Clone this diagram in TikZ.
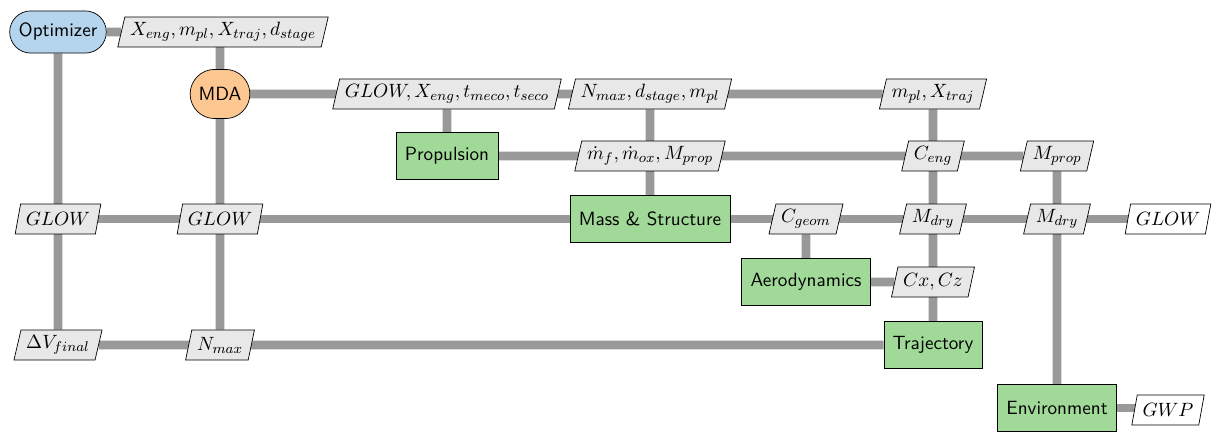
\documentclass[tikz,border=0pt]{standalone}
\usepackage{amsmath}
\usetikzlibrary{shapes.geometric, shapes.misc, positioning}
\definecolor{optBlue}{RGB}{180,213,237}
\definecolor{mdaOrange}{RGB}{253,199,145}
\definecolor{funcGreen}{RGB}{161,218,152}
\definecolor{dataGray}{RGB}{232,232,232}
\definecolor{flowGray}{RGB}{153,153,153}
\pgfdeclarelayer{back}
\pgfsetlayers{back,main}

\begin{document}
\begin{tikzpicture}[x=0.02cm, y=-0.02cm, font=\sffamily\fontsize{10.9}{13}\selectfont,
    optim/.style={draw, rounded rectangle, fill=optBlue, minimum width=57pt, minimum height=24pt, inner sep=1pt},
    mdabox/.style={draw, rounded rectangle, fill=mdaOrange, minimum width=36pt, minimum height=28pt, inner sep=1pt},
    func/.style={draw, rectangle, fill=funcGreen, minimum height=27pt, inner xsep=5pt},
    datum/.style={draw, trapezium, trapezium left angle=75, trapezium right angle=105, trapezium stretches body,
        fill=dataGray, minimum height=17pt, inner xsep=3pt, inner ysep=2pt},
    outdatum/.style={datum, fill=white},
    flow/.style={line width=5pt, flowGray}]
    \useasboundingbox (0,0) rectangle (1212,432);

    % diagonal
    \node[optim] (opt) at (58,32) {Optimizer};
    \node[mdabox] (mda) at (220,94) {MDA};
    \node[func] (prop) at (447,156) {Propulsion};
    \node[func] (mass) at (650,219) {Mass \& Structure};
    \node[func] (aero) at (806,282) {Aerodynamics};
    \node[func] (traj) at (933,345) {Trajectory};
    \node[func] (env) at (1057,408) {Environment};

    % data
    \node[datum] (xopt) at (223,32) {$X_{eng}, m_{pl}, X_{traj}, d_{stage}$};
    \node[datum] (glowProp) at (447,94) {$GLOW, X_{eng}, t_{meco}, t_{seco}$};
    \node[datum] (nmaxMass) at (650,94) {$N_{max}, d_{stage}, m_{pl}$};
    \node[datum] (mplTraj) at (933,94) {$m_{pl}, X_{traj}$};
    \node[datum] (mdotMass) at (650,156) {$\dot{m}_f, \dot{m}_{ox}, M_{prop}$};
    \node[datum] (cengTraj) at (933,156) {$C_{eng}$};
    \node[datum] (mpropEnv) at (1057,156) {$M_{prop}$};
    \node[datum] (glowOpt) at (58,219) {$GLOW$};
    \node[datum] (glowMda) at (220,219) {$GLOW$};
    \node[datum] (cgeomAero) at (806,219) {$C_{geom}$};
    \node[datum] (mdryTraj) at (933,219) {$M_{dry}$};
    \node[datum] (mdryEnv) at (1057,219) {$M_{dry}$};
    \node[outdatum] (glowOut) at (1168,219) {$GLOW$};
    \node[datum] (cxTraj) at (933,282) {$Cx, Cz$};
    \node[datum] (dvOpt) at (58,345) {$\Delta V_{final}$};
    \node[datum] (nmaxMda) at (220,345) {$N_{max}$};
    \node[outdatum] (gwpOut) at (1168,410) {$GWP$};

    \begin{pgfonlayer}{back}
        % rows
        \draw[flow] (opt) -- (xopt);
        \draw[flow] (mda) -- (mplTraj);
        \draw[flow] (prop) -- (mpropEnv);
        \draw[flow] (glowOpt) -- (glowOut);
        \draw[flow] (aero) -- (cxTraj);
        \draw[flow] (dvOpt) -- (traj);
        \draw[flow] (env) -- (env -| gwpOut);
        % columns
        \draw[flow] (opt) -- (dvOpt);
        \draw[flow] (mda |- xopt) -- (nmaxMda);
        \draw[flow] (glowProp) -- (prop);
        \draw[flow] (nmaxMass) -- (mass);
        \draw[flow] (cgeomAero) -- (aero);
        \draw[flow] (mplTraj) -- (traj);
        \draw[flow] (mpropEnv) -- (env);
    \end{pgfonlayer}
\end{tikzpicture}
\end{document}
